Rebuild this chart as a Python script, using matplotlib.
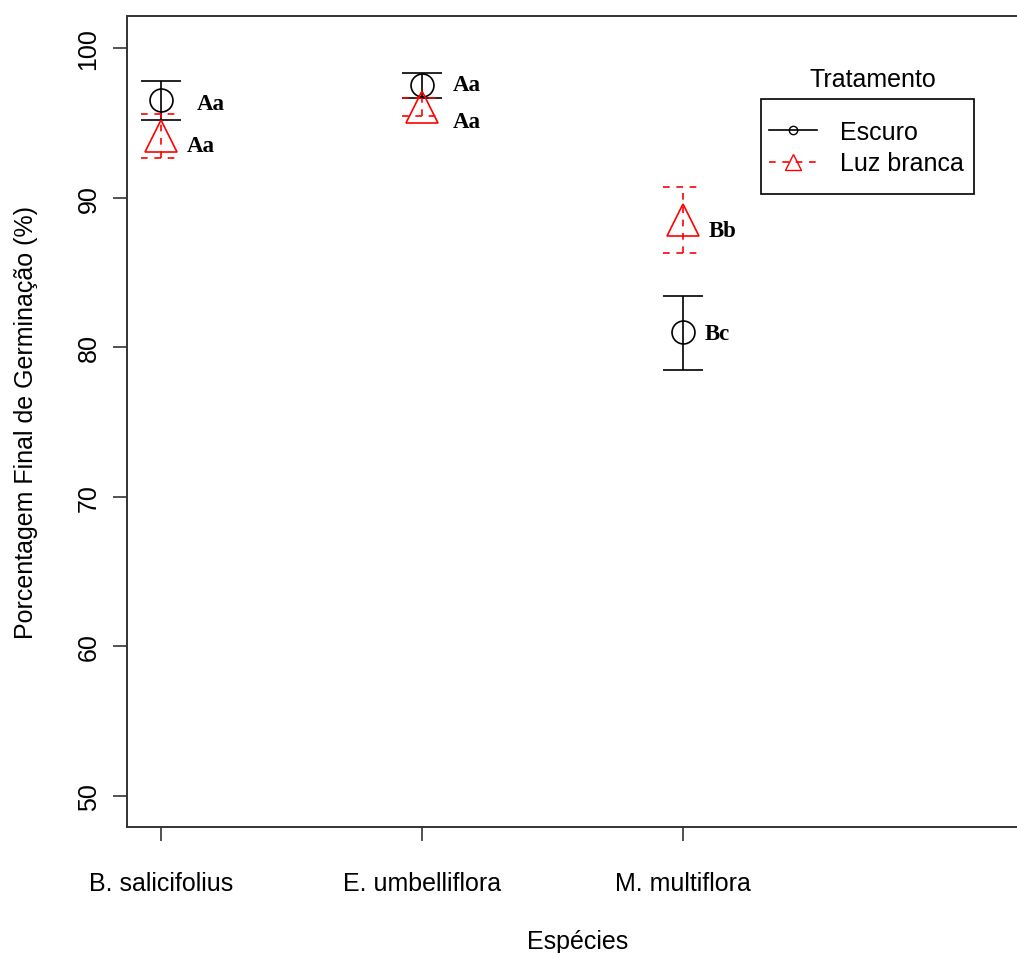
import matplotlib
matplotlib.use("Agg")
import matplotlib.pyplot as plt
from matplotlib.lines import Line2D
from matplotlib.patches import Rectangle
import numpy as np

# Germination data: mean and error-bar limits per species and treatment
species = ["B. salicifolius", "E. umbelliflora", "M. multiflora"]
treatments = ["Escuro", "Luz branca"]

escuro_mean = [96.5, 97.5, 81.0]
escuro_low = [95.2, 96.65, 78.5]
escuro_high = [97.8, 98.35, 83.4]
escuro_letters = ["Aa", "Aa", "Bc"]

luz_mean = [94.1, 96.05, 88.5]
luz_low = [92.65, 95.45, 86.3]
luz_high = [95.6, 96.65, 90.7]
luz_letters = ["Aa", "Aa", "Bb"]

yticks = [50, 60, 70, 80, 90, 100]

W, H = 1017, 954
fig = plt.figure(figsize=(W / 100, H / 100), dpi=100)
ax = fig.add_axes([127 / W, (H - 828) / H, 902 / W, 811 / H])

sans = "Liberation Sans"
serif = "Liberation Serif"
fs = 18

x = np.arange(1, len(species) + 1)
cap = 0.077


def draw_group(means, lows, highs, color, marker, ms, dashes=None):
    kw = dict(colors=color, linewidth=1.2)
    v = ax.vlines(x, lows, highs, **kw)
    h1 = ax.hlines(lows, x - cap, x + cap, **kw)
    h2 = ax.hlines(highs, x - cap, x + cap, **kw)
    if dashes is not None:
        for c in (v, h1, h2):
            c.set_linestyle((0, dashes))
    ax.plot(x, means, linestyle="none", marker=marker, markersize=ms,
            markerfacecolor="none", markeredgecolor=color,
            markeredgewidth=1.2, zorder=3)


draw_group(escuro_mean, escuro_low, escuro_high, "black", "o", 16.5)
draw_group(luz_mean, luz_low, luz_high, "#FF0000", "^", 23, dashes=(4, 4))

# Letters of the mean comparison test (offsets in pixels)
esc_off = [(36, 3), (31, -1), (22, 1)]
luz_off = [(26, 9), (31, 14), (26, 10)]
for xi, m, lab, (dx, dy) in zip(x, escuro_mean, escuro_letters, esc_off):
    ax.annotate(lab, (xi, m), xytext=(dx * 0.72, -dy * 0.72),
                textcoords="offset points", ha="left", va="center",
                fontsize=16.5, fontweight="bold", family=serif)
for xi, m, lab, (dx, dy) in zip(x, luz_mean, luz_letters, luz_off):
    ax.annotate(lab, (xi, m), xytext=(dx * 0.72, -dy * 0.72),
                textcoords="offset points", ha="left", va="center",
                fontsize=16.5, fontweight="bold", family=serif)

ax.set_xlim(0.87, 4.326)
ax.set_ylim(47.93, 102.14)
ax.set_xticks(x)
ax.set_xticklabels(species, fontsize=fs, family=sans)
ax.set_yticks(yticks)
ax.set_yticklabels([str(t) for t in yticks], fontsize=fs, family=sans,
                   rotation=90, va="center")
ax.tick_params(axis="both", length=10, width=1.2, color="#333333")
ax.tick_params(axis="y", pad=9)
ax.tick_params(axis="x", pad=22)
for side in ("left", "bottom", "top", "right"):
    ax.spines[side].set_linewidth(1.4)
    ax.spines[side].set_color("#333333")

ax.set_xlabel("Espécies", fontsize=fs, family=sans, labelpad=24)
ax.set_ylabel("Porcentagem Final de Germinação (%)", fontsize=fs,
              family=sans, labelpad=28)

# Legend: entries, a separate frame, and the title above the frame
handles = [
    Line2D([], [], color="black", lw=1.2, marker="o", markersize=6,
           markerfacecolor="none"),
    Line2D([], [], color="#FF0000", lw=1.2, linestyle=(0, (4, 4)),
           marker="^", markersize=11, markerfacecolor="none"),
]
fig.legend(handles, treatments, loc="upper left",
           bbox_to_anchor=(769 / W, 1 - 121 / H),
           bbox_transform=fig.transFigure, frameon=False,
           borderaxespad=0, borderpad=0,
           prop={"family": sans, "size": fs},
           handlelength=1.9, handletextpad=0.95, labelspacing=0.3)
fig.add_artist(Rectangle((761 / W, 1 - 195 / H), 213 / W, 95 / H,
                         transform=fig.transFigure, fill=False,
                         edgecolor="black", linewidth=1.2))
fig.text(873 / W, 1 - 80 / H, "Tratamento", ha="center", va="center",
         fontsize=fs, family=sans)

fig.savefig("out.png", dpi=100)
